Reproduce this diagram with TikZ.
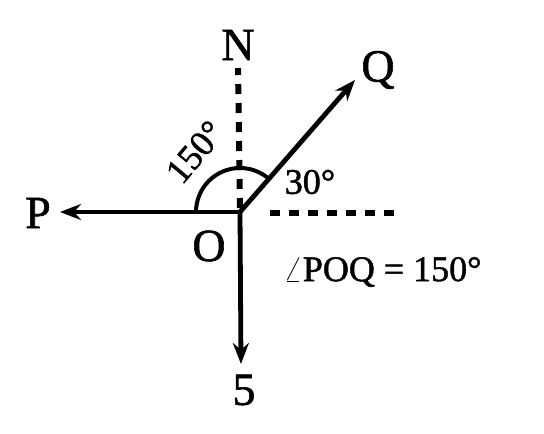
\documentclass[tikz,border=0pt]{standalone}
\usepackage{fontspec}
\setmainfont[FakeBold=1.3]{Liberation Serif}
\usetikzlibrary{arrows.meta}

\begin{document}
\begin{tikzpicture}[x=1pt,y=-1pt,>={Stealth[length=21pt,width=16pt]},
  ray/.style={line width=4.8pt},
  guide/.style={line width=6pt,dash pattern=on 10pt off 9pt},
  big/.style={font=\fontsize{46}{46}\selectfont},
  small/.style={font=\fontsize{36}{36}\selectfont}]
\useasboundingbox (0,0) rectangle (544,434);
\coordinate (O) at (240,212);
\coordinate (p) at (60,212);
\coordinate (q) at (355,80);
\coordinate (s) at (241,364);
\coordinate (n) at (238,68);
\coordinate (e) at (394,213);
% compass lines
\draw[guide] (O)++(0,-4) -- (n);
\draw[guide] (O)++(30,1) -- (e);
\draw[ray,->] (O) -- (p);
\draw[ray,->] (O) -- (q);
\draw[ray,->] (O) -- (s);
% angle
\draw[line width=4pt] (O)++(-44,0) arc[start angle=180,end angle=311,radius=44];
\node[big] (N) at (238,45) {N};
\node[big] (Q) at (378,70) {Q};
\node[big] (P) at (38,213) {P};
\node[big] (Olab) at (209,246) {O};
\node[big] (S) at (244,390) {5};
\node[small,rotate=50] (a150) at (195,152) {150°};
\node[small] (a30) at (310,182) {30°};
\node[small,anchor=west] (POQ) at (280,272) {$\angle$POQ = 150°};
\end{tikzpicture}
\end{document}
